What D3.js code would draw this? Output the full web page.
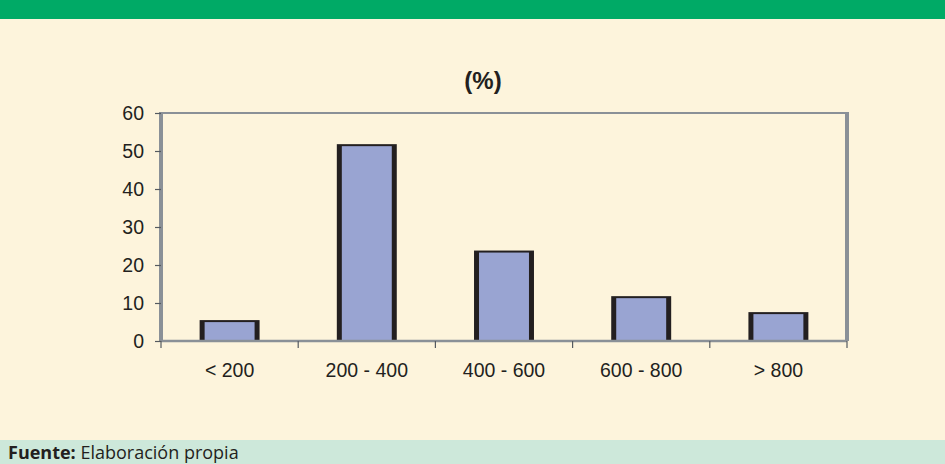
<!DOCTYPE html>
<html>
<head>
<meta charset="utf-8">
<script src="https://cdn.jsdelivr.net/npm/d3@7"></script>
<style>
  html, body { margin: 0; padding: 0; background: #ffffff; }
  svg { display: block; }
</style>
</head>
<body>
<svg id="chart" width="945" height="464"></svg>
<script>
// Distribución por tramos (%)
const categories = ["< 200", "200 - 400", "400 - 600", "600 - 800", "> 800"];
const values = [5.5, 51.8, 23.8, 11.8, 7.6];
const yTicks = [0, 10, 20, 30, 40, 50, 60];
const chartTitle = "(%)";
const sourceLabel = "Fuente:";
const sourceText = " Elaboración propia";

const svg = d3.select("#chart");
const W = 945, H = 464;

// panel backgrounds
svg.append("rect").attr("x", 0).attr("y", 0).attr("width", W).attr("height", H).attr("fill", "#fdf4dc");
svg.append("rect").attr("x", 0).attr("y", 0).attr("width", W).attr("height", 19).attr("fill", "#00aa66");
svg.append("rect").attr("x", 0).attr("y", 440).attr("width", W).attr("height", H - 440).attr("fill", "#cde8da");

const plot = { left: 161, right: 847, top: 113, bottom: 341 };

const x = d3.scaleBand()
  .domain(categories)
  .range([plot.left, plot.right])
  .paddingInner(0.563)
  .paddingOuter(0.2815);

const y = d3.scaleLinear()
  .domain([0, 60])
  .range([plot.bottom, plot.top]);

const axisGray = "#8a9097";
const ink = "#231f20";
const font = "'Liberation Sans', Arial, sans-serif";

// frame: top and right edges
svg.append("line")
  .attr("x1", plot.left).attr("x2", plot.right)
  .attr("y1", plot.top).attr("y2", plot.top)
  .attr("stroke", axisGray).attr("stroke-width", 2);
svg.append("line")
  .attr("x1", plot.right).attr("x2", plot.right)
  .attr("y1", plot.top - 1).attr("y2", plot.bottom)
  .attr("stroke", axisGray).attr("stroke-width", 4);

// bars: dark outline with heavier sides, blue-violet fill
const bars = svg.append("g");
values.forEach((v, i) => {
  const bx = x(categories[i]);
  const bw = x.bandwidth();
  const top = y(v);
  const h = y(0) - top;
  bars.append("rect")
    .attr("x", bx).attr("y", top).attr("width", bw).attr("height", h)
    .attr("fill", ink);
  bars.append("rect")
    .attr("x", bx + 5).attr("y", top + 2).attr("width", bw - 10).attr("height", h - 2)
    .attr("fill", "#99a4d2");
});

// y axis
const yAxis = svg.append("g")
  .attr("transform", `translate(${plot.left},0)`)
  .call(d3.axisLeft(y).tickValues(yTicks).tickSize(6).tickPadding(11).tickSizeOuter(0));
yAxis.select(".domain").attr("stroke", axisGray).attr("stroke-width", 4)
  .attr("d", `M0,${plot.top - 1}V${plot.bottom}`);
yAxis.selectAll(".tick line").attr("stroke", "#555a60").attr("stroke-width", 1.2);
yAxis.selectAll(".tick text")
  .attr("fill", ink).attr("font-family", font).attr("font-size", 19.5);

// x axis: labels centred on bands, ticks on category boundaries
const xAxis = svg.append("g")
  .attr("transform", `translate(0,${plot.bottom})`)
  .call(d3.axisBottom(x).tickSize(0).tickPadding(22));
xAxis.select(".domain").attr("stroke", axisGray).attr("stroke-width", 2.5)
  .attr("d", `M${plot.left},0H${plot.right}`);
xAxis.selectAll(".tick text")
  .attr("fill", ink).attr("font-family", font).attr("font-size", 19.5);

const step = x.step();
const bounds = d3.range(categories.length + 1).map(i => plot.left + i * step);
xAxis.selectAll(".bound")
  .data(bounds)
  .join("line")
  .attr("class", "bound")
  .attr("x1", d => d).attr("x2", d => d)
  .attr("y1", 0).attr("y2", 7)
  .attr("stroke", "#555a60").attr("stroke-width", 1.2);

// chart title
svg.append("text")
  .attr("x", 483).attr("y", 89)
  .attr("text-anchor", "middle")
  .attr("font-family", font).attr("font-weight", "bold").attr("font-size", 24)
  .attr("fill", ink)
  .text(chartTitle);

// source line
const src = svg.append("text")
  .attr("x", 8).attr("y", 459)
  .attr("font-family", "'Open Sans', 'Noto Sans', sans-serif").attr("font-size", 18)
  .attr("fill", ink);
src.append("tspan").attr("font-weight", "bold").text(sourceLabel);
src.append("tspan").text(sourceText);
</script>
</body>
</html>
